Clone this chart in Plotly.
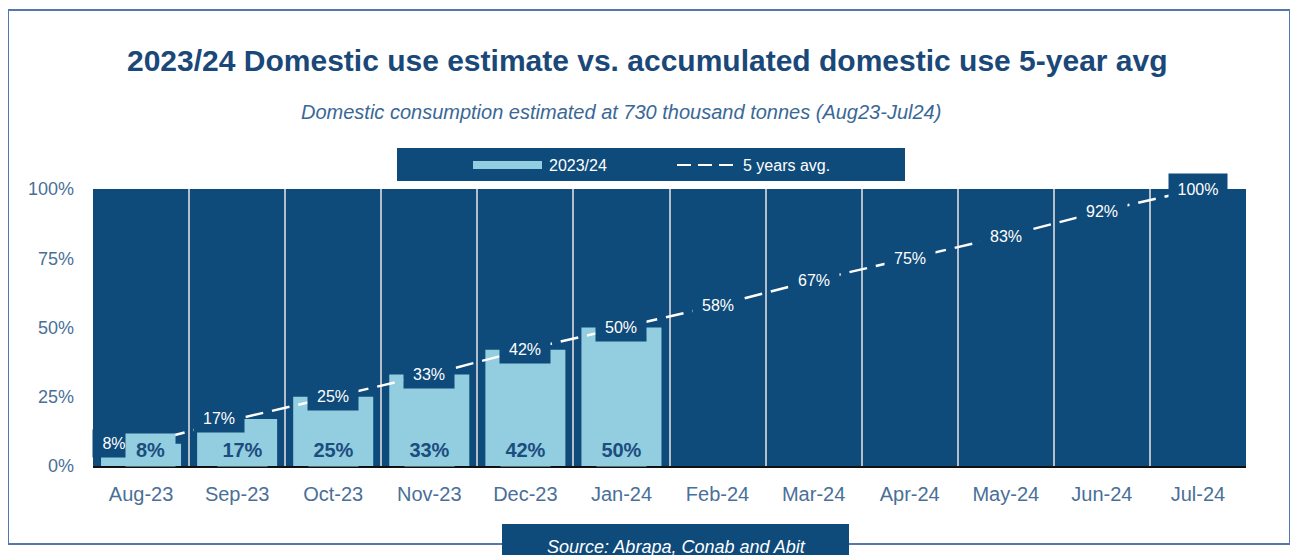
import plotly.graph_objects as go

# data
months = ["Aug-23", "Sep-23", "Oct-23", "Nov-23", "Dec-23", "Jan-24",
          "Feb-24", "Mar-24", "Apr-24", "May-24", "Jun-24", "Jul-24"]
use_2324 = [8, 17, 25, 33, 42, 50]
avg_5y = [8, 17, 25, 33, 42, 50, 58, 67, 75, 83, 92, 100]
y_ticks = [0, 25, 50, 75, 100]

NAVY = "#0E4A7A"
LIGHT = "#92CDE0"
TITLE_C = "#1A4878"
TICK_C = "#4A6F98"
SANS = "Liberation Sans, Arial, sans-serif"

# plot area in window pixels (page body has an 8px margin)
OFF = 8
L, R, T, B = 93, 1246, 189, 466


def px(x):
    return (x - L) / (R - L)


def py(y):
    return (B - y) / (B - T)


fig = go.Figure()

fig.add_trace(go.Bar(x=months[:len(use_2324)], y=use_2324, name="2023/24",
                     marker=dict(color=LIGHT, line=dict(width=0)),
                     showlegend=False, hoverinfo="skip"))
fig.add_trace(go.Scatter(x=months, y=avg_5y, name="5 years avg.", mode="lines",
                         line=dict(color="white", width=2.5, dash="18px,9px"),
                         showlegend=False, hoverinfo="skip"))

annotations = []
# labels on the 5-year line
for i, (m, v) in enumerate(zip(months, avg_5y)):
    txt = f"{v}%"
    annotations.append(dict(
        x=m, y=v, xref="x", yref="y", text=txt, showarrow=False,
        xshift={0: -27, 1: -18}.get(i, 0),
        font=dict(family=SANS, size=16, color="white"),
        bgcolor=NAVY, width=24 + 8 * len(txt), height=25 if v < 100 else 28,
    ))
# labels inside the bars
for i, (m, v) in enumerate(zip(months, use_2324)):
    annotations.append(dict(
        x=m, y=0, xref="x", yref="y", text=f"<b>{v}%</b>", showarrow=False,
        yanchor="middle", yshift=16, xshift={0: 9, 1: 5}.get(i, 0),
        font=dict(family=SANS, size=20, color="#1B4D7E"),
        bgcolor=LIGHT, width=47, height=30,
    ))


def note(x, y, text, size, color, xanchor="center"):
    annotations.append(dict(
        x=px(x), y=py(y), xref="paper", yref="paper", showarrow=False,
        xanchor=xanchor, yanchor="middle", text=text,
        font=dict(family=SANS, size=size, color=color)))


note(647, 60, "<b>2023/24 Domestic use estimate vs. accumulated domestic use 5-year avg</b>",
     30, TITLE_C)
note(621, 112, "<i>Domestic consumption estimated at 730 thousand tonnes (Aug23-Jul24)</i>",
     20, "#3A6896")
note(547, 165, "2023/24", 16, "white", "left")
note(741, 165, "5 years avg.", 16, "white", "left")
note(676, 547, "<i>Source: Abrapa, Conab and Abit</i>", 18, "white")

shapes = [
    # outer frame
    dict(type="rect", xref="paper", yref="paper", layer="below",
         x0=px(8), x1=px(1290), y0=py(10), y1=py(544),
         line=dict(color="#5576AE", width=2), fillcolor="rgba(0,0,0,0)"),
    # legend box
    dict(type="rect", xref="paper", yref="paper",
         x0=px(397), x1=px(905), y0=py(148), y1=py(181),
         line=dict(width=0), fillcolor=NAVY),
    dict(type="rect", xref="paper", yref="paper",
         x0=px(473), x1=px(542), y0=py(161), y1=py(169),
         line=dict(width=0), fillcolor=LIGHT),
    dict(type="line", xref="paper", yref="paper",
         x0=px(677), x1=px(738), y0=py(165), y1=py(165),
         line=dict(color="white", width=2, dash="14px,7px")),
    # source box
    dict(type="rect", xref="paper", yref="paper",
         x0=px(502), x1=px(849), y0=py(524), y1=py(570),
         line=dict(width=0), fillcolor=NAVY),
]

fig.update_layout(
    width=1298, height=555,
    margin=dict(l=L - OFF, r=1298 - R + OFF, t=T - OFF, b=555 - B + OFF),
    paper_bgcolor="white", plot_bgcolor=NAVY,
    bargap=0.167, showlegend=False,
    annotations=annotations, shapes=shapes,
    xaxis=dict(type="category", range=[-0.5, len(months) - 0.5],
               tickson="boundaries", showgrid=True, gridcolor="#B4BFCB", gridwidth=1.5,
               ticks="", showline=True, linecolor="#111111", linewidth=2,
               tickfont=dict(family=SANS, size=20, color=TICK_C),
               ticklabelstandoff=9),
    yaxis=dict(range=[0, 100], tickvals=y_ticks, ticktext=[f"{v}%" for v in y_ticks],
               showgrid=False, zeroline=False, ticks="",
               tickfont=dict(family=SANS, size=18, color=TICK_C),
               ticklabelstandoff=18),
)

fig.write_html("out.html")
